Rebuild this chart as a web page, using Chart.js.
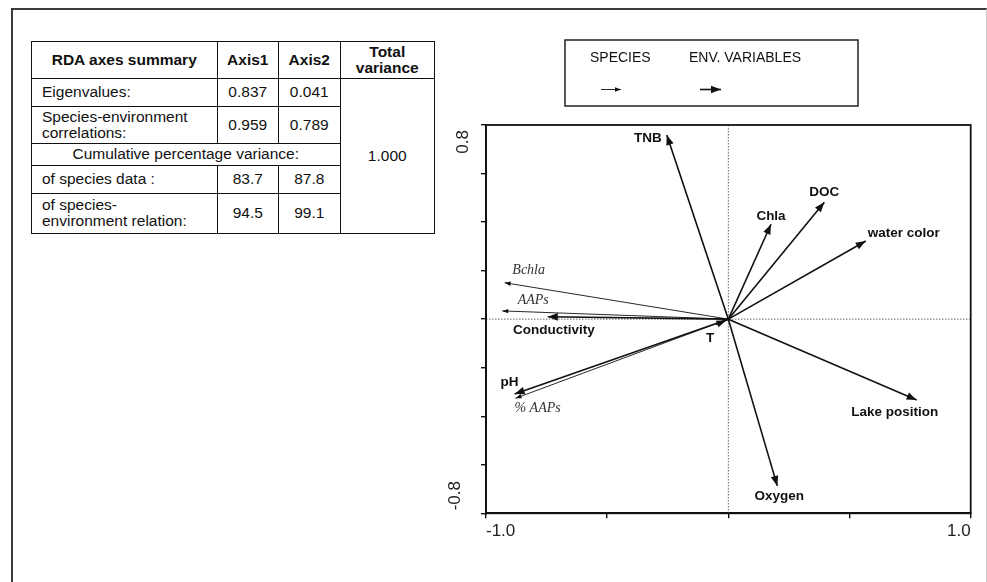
<!DOCTYPE html>
<html>
<head>
<meta charset="utf-8">
<title>RDA biplot</title>
<script src="https://cdn.jsdelivr.net/npm/chart.js@4.4.1/dist/chart.umd.min.js"></script>
<style>
  html, body { margin: 0; padding: 0; background: #fff; overflow: hidden; }
  #page { position: relative; width: 987px; height: 582px; font-family: "Liberation Sans", Arial, sans-serif; }
  #frame { position: absolute; left: 11px; top: 8px; width: 973px; height: 600px;
           border-left: 2px solid #3c3c3c; border-top: 2px solid #3c3c3c; border-right: 1px solid #c8c8c8; }
  #plot { position: absolute; left: 0; top: 0; width: 987px; height: 582px; }
  #summary { position: absolute; left: 31px; top: 41px; width: 403px; border-collapse: collapse;
             table-layout: fixed; font-size: 15.5px; color: #111; }
  #summary td, #summary th { border: 1px solid #111; padding: 0; line-height: 16px; text-align: center; }
  #summary th { font-weight: bold; }
  #summary td.name { text-align: left; padding-left: 10px; }
</style>
</head>
<body>
<div id="page">
  <div id="frame"></div>
  <table id="summary"></table>
  <div id="plot"><canvas id="rda-canvas"></canvas></div>
</div>
<script>
// ---- Data ----
const envNames  = ["TNB", "Chla", "DOC", "water color", "Lake position", "Oxygen", "Conductivity", "pH", "T"];
const envAxis1  = [-0.254, 0.176, 0.396, 0.567, 0.777, 0.202, -0.745, -0.882, -0.050];
const envAxis2  = [ 0.759, 0.391, 0.482, 0.322, -0.333, -0.687, 0.010, -0.308, -0.022];

const speciesNames = ["Bchla", "AAPs", "% AAPs"];
const speciesAxis1 = [-0.923, -0.933, -0.878];
const speciesAxis2 = [ 0.150,  0.034, -0.326];

const xTickLabels = ["-1.0", "1.0"];
const yTickLabels = ["0.8", "-0.8"];

// summary table
const summaryHeader = ["RDA axes summary", "Axis1", "Axis2", "Total\nvariance"];
const eigenvalues   = ["0.837", "0.041"];
const speciesEnvCorrelations = ["0.959", "0.789"];
const cumSpeciesData = ["83.7", "87.8"];
const cumSpeciesEnvRelation = ["94.5", "99.1"];
const totalVariance = "1.000";

// ---- Styles ----
const INK = "#111";
const SPECIES_INK = "#333";
const ENV_FONT = "bold 13.5px 'Liberation Sans', Arial, sans-serif";
const SPECIES_FONT = "italic 14px 'Liberation Serif', 'Times New Roman', serif";

// label offset from arrow tip, px
const labelOffset = {
  "TNB": [-19, 3], "Chla": [0, -8], "DOC": [0, -10], "water color": [38, -8],
  "Lake position": [-22, 12], "Oxygen": [2, 10], "Conductivity": [6, 14],
  "pH": [-5, -12], "T": [-6, 14],
  "Bchla": [24, -12], "AAPs": [31, -11], "% AAPs": [22, 10],
};
// arrows whose head sits at the origin end
const headAtOrigin = ["T"];

// ---- Table ----
const br = s => s.replace(/\n/g, "<br>");
const rows = [
  `<col style="width:185.5px"><col style="width:61.5px"><col style="width:61.5px"><col style="width:94.5px">`,
  `<tr style="height:36.5px">${summaryHeader.map(h => `<th>${br(h)}</th>`).join("")}</tr>`,
  `<tr style="height:28px"><td class="name">Eigenvalues:</td><td>${eigenvalues[0]}</td><td>${eigenvalues[1]}</td><td rowspan="5">${totalVariance}</td></tr>`,
  `<tr style="height:37px"><td class="name">Species-environment<br>correlations:</td><td>${speciesEnvCorrelations[0]}</td><td>${speciesEnvCorrelations[1]}</td></tr>`,
  `<tr style="height:22px"><td colspan="3">Cumulative percentage variance:</td></tr>`,
  `<tr style="height:28.5px"><td class="name">of species data :</td><td>${cumSpeciesData[0]}</td><td>${cumSpeciesData[1]}</td></tr>`,
  `<tr style="height:39.5px"><td class="name">of species-<br>environment relation:</td><td>${cumSpeciesEnvRelation[0]}</td><td>${cumSpeciesEnvRelation[1]}</td></tr>`,
];
document.getElementById("summary").innerHTML = rows.join("");

// ---- Chart ----
const datasets = [];
envNames.forEach((name, i) => datasets.push({
  label: name, kind: "env",
  data: [{x: 0, y: 0}, {x: envAxis1[i], y: envAxis2[i]}],
  showLine: true, borderColor: INK, borderWidth: 1.6, pointRadius: 0,
}));
speciesNames.forEach((name, i) => datasets.push({
  label: name, kind: "species",
  data: [{x: 0, y: 0}, {x: speciesAxis1[i], y: speciesAxis2[i]}],
  showLine: true, borderColor: INK, borderWidth: 0.9, pointRadius: 0,
}));

function drawHead(ctx, fx, fy, tx, ty, len, half) {
  const a = Math.atan2(ty - fy, tx - fx);
  const c = Math.cos(a), s = Math.sin(a);
  ctx.beginPath();
  ctx.moveTo(tx, ty);
  ctx.lineTo(tx - len * c + half * s, ty - len * s - half * c);
  ctx.lineTo(tx - len * c - half * s, ty - len * s + half * c);
  ctx.closePath();
  ctx.fill();
}

const biplotPlugin = {
  id: "biplot",
  beforeDatasetsDraw(chart) {
    const {ctx, chartArea: a, scales: {x, y}} = chart;
    ctx.save();
    ctx.strokeStyle = "#666";
    ctx.lineWidth = 1;
    ctx.setLineDash([1.5, 1.5]);
    ctx.beginPath();
    ctx.moveTo(x.getPixelForValue(0), a.top);
    ctx.lineTo(x.getPixelForValue(0), a.bottom);
    ctx.moveTo(a.left, y.getPixelForValue(0));
    ctx.lineTo(a.right, y.getPixelForValue(0));
    ctx.stroke();
    ctx.restore();
  },
  afterDatasetsDraw(chart) {
    const {ctx, scales: {x, y}} = chart;
    ctx.save();
    chart.data.datasets.forEach(ds => {
      const env = ds.kind === "env";
      const ox = x.getPixelForValue(0), oy = y.getPixelForValue(0);
      const px = x.getPixelForValue(ds.data[1].x), py = y.getPixelForValue(ds.data[1].y);
      ctx.fillStyle = INK;
      if (headAtOrigin.includes(ds.label)) drawHead(ctx, px, py, ox - 2, oy + 1, 10, 3.5);
      else if (env) drawHead(ctx, ox, oy, px, py, 10, 3.8);
      else drawHead(ctx, ox, oy, px, py, 6, 2.2);

      const off = labelOffset[ds.label] || [0, 0];
      ctx.font = env ? ENV_FONT : SPECIES_FONT;
      ctx.fillStyle = env ? INK : SPECIES_INK;
      ctx.textAlign = "center";
      ctx.textBaseline = "middle";
      ctx.fillText(ds.label, px + off[0], py + off[1]);
    });
    ctx.restore();
  },
  afterDraw(chart) {
    const {ctx, chartArea: a, scales: {y}} = chart;
    ctx.save();
    // plot box
    ctx.strokeStyle = INK;
    ctx.lineWidth = 1.8;
    ctx.strokeRect(a.left, a.top, a.right - a.left, a.bottom - a.top);

    // rotated y end labels
    ctx.fillStyle = "#222";
    ctx.font = "17px 'Liberation Sans', Arial, sans-serif";
    ctx.textBaseline = "middle";
    yTickLabels.forEach(lbl => {
      const v = Number(lbl);
      const top = v > 0;
      ctx.save();
      ctx.translate(a.left + (top ? -23 : -31), y.getPixelForValue(v));
      ctx.rotate(-Math.PI / 2);
      ctx.textAlign = top ? "right" : "left";
      ctx.fillText(lbl, top ? -5 : 3, 0);
      ctx.restore();
    });

    // legend
    ctx.lineWidth = 1.5;
    ctx.strokeStyle = "#222";
    ctx.strokeRect(565, 40, 293, 66);
    ctx.font = "14px 'Liberation Sans', Arial, sans-serif";
    ctx.fillStyle = INK;
    ctx.textAlign = "left";
    ctx.fillText("SPECIES", 590, 58);
    ctx.fillText("ENV. VARIABLES", 689, 58);
    ctx.strokeStyle = INK;
    ctx.lineWidth = 0.9;
    ctx.beginPath(); ctx.moveTo(601, 89.5); ctx.lineTo(621, 89.5); ctx.stroke();
    drawHead(ctx, 601, 89.5, 621, 89.5, 6, 2.2);
    ctx.lineWidth = 1.6;
    ctx.beginPath(); ctx.moveTo(700, 89.5); ctx.lineTo(721, 89.5); ctx.stroke();
    drawHead(ctx, 700, 89.5, 721, 89.5, 10, 3.8);
    ctx.restore();
  }
};

const axisGrid = { drawOnChartArea: false, drawTicks: true, tickLength: 5, color: INK, lineWidth: 1.4 };
const axisBorder = { display: true, color: INK, width: 1.8 };

new Chart(document.getElementById("rda-canvas"), {
  type: "scatter",
  data: { datasets },
  options: {
    responsive: true,
    maintainAspectRatio: false,
    animation: false,
    layout: { padding: { left: 480, top: 125, right: 16.3, bottom: 28.7 } },
    plugins: { legend: { display: false }, tooltip: { enabled: false } },
    scales: {
      x: {
        type: "linear", min: -1, max: 1,
        grid: axisGrid, border: axisBorder,
        afterFit: s => { s.height = 40; },
        ticks: {
          stepSize: 0.5, autoSkip: false, maxRotation: 0, align: "inner",
          color: "#222", font: { size: 17, family: "'Liberation Sans', Arial, sans-serif" },
          callback: v => xTickLabels.find(l => Math.abs(Number(l) - v) < 1e-9) ?? "",
        }
      },
      y: {
        type: "linear", min: -0.8, max: 0.8,
        grid: axisGrid, border: axisBorder,
        afterFit: s => { s.width = 6; },
        ticks: { stepSize: 0.2, autoSkip: false, callback: () => "" }
      }
    }
  },
  plugins: [biplotPlugin]
});
</script>
</body>
</html>
